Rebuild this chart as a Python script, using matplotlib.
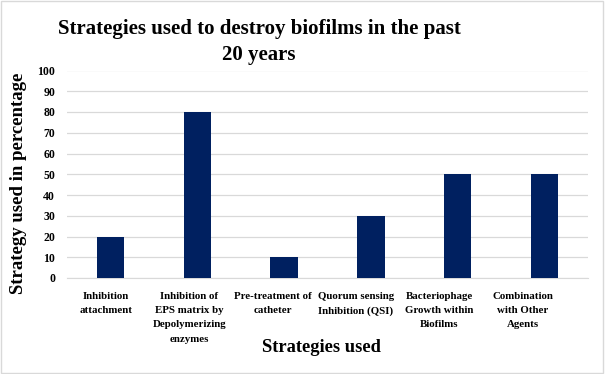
import matplotlib
matplotlib.use("Agg")
import matplotlib.pyplot as plt
import matplotlib.transforms as mtransforms
from matplotlib.patches import Rectangle

# ── data ──
categories = [
    "Inhibition\nattachment",
    "Inhibition of\nEPS matrix by\nDepolymerizing\nenzymes",
    "Pre-treatment of\ncatheter",
    "Quorum sensing\nInhibition (QSI)",
    "Bacteriophage\nGrowth within\nBiofilms",
    "Combination\nwith Other\nAgents",
]
values = [20, 80, 10, 30, 50, 50]
yticks = list(range(0, 101, 10))

W, H = 605, 374

plt.rcParams["font.family"] = ["Liberation Serif", "DejaVu Serif"]
plt.rcParams["font.weight"] = "bold"

fig = plt.figure(figsize=(W / 100, H / 100), dpi=100)
# plot area in pixels: x 67..588, y 70.5 (100) .. 278 (0)
ax = fig.add_axes([67 / W, 1 - 278 / H, 521 / W, 207.5 / H])

x = list(range(len(categories)))
ax.bar(x, values, width=0.315, color="#002060", zorder=3)

ax.set_xlim(-0.5, len(categories) - 0.5)
ax.set_ylim(0, 100)
ax.set_yticks(yticks)
ax.set_yticklabels([str(v) for v in yticks], fontsize=8.5, fontweight="bold")
ax.set_xticks(x)
ax.set_xticklabels(categories, fontsize=7.8, fontweight="bold", linespacing=1.75)
ax.tick_params(axis="y", length=0, pad=8.5)
ax.tick_params(axis="x", length=0, pad=10)
ax.grid(axis="y", color="#d9d9d9", linewidth=0.9, zorder=0)
for side in ["top", "right", "left"]:
    ax.spines[side].set_visible(False)
ax.spines["bottom"].set_color("#d9d9d9")

# the source shifts the category labels a little to the left, more so to the right
for i, lab in enumerate(ax.get_xticklabels()):
    dx = -(4.5 + 3.5 * i) / 100
    lab.set_transform(lab.get_transform() +
                      mtransforms.ScaledTranslation(dx, 0, fig.dpi_scale_trans))

fig.text(19 / W, 1 - 183 / H, "Strategy used in percentage", rotation=90,
         ha="center", va="center", fontsize=13.5, fontweight="bold")
fig.text(321 / W, 1 - 348 / H, "Strategies used",
         ha="center", va="center", fontsize=13.3, fontweight="bold")

fig.text(259 / W, 1 - 42 / H, "Strategies used to destroy biofilms in the past\n20 years",
         ha="center", va="center", fontsize=15, fontweight="bold", linespacing=1.45)

# light frame round the whole chart
fig.patches.append(Rectangle((0.002, 0.003), 0.995, 0.993, transform=fig.transFigure,
                             fill=False, edgecolor="#d9d9d9", linewidth=1))

fig.savefig("out.png", dpi=100)
